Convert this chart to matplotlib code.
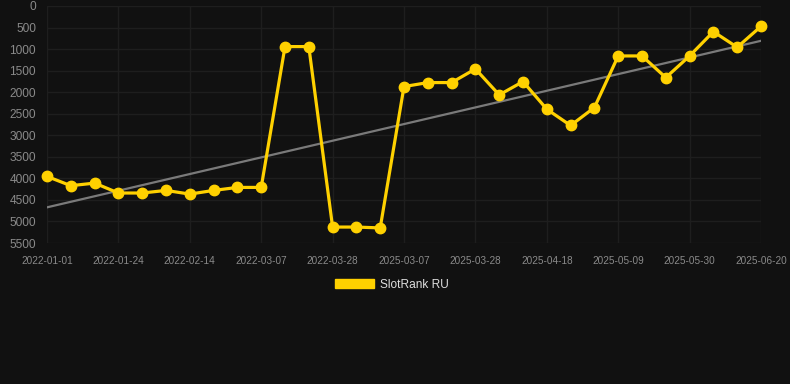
import numpy as np
import matplotlib
matplotlib.use('Agg')
import matplotlib.pyplot as plt
from matplotlib.patches import Patch

## data
rank = [3955, 4170, 4110, 4340, 4340, 4280, 4365, 4280, 4210, 4210,
        942, 942, 5130, 5130, 5150, 1870, 1777, 1777, 1460, 2063,
        1754, 2395, 2773, 2356, 1159, 1159, 1661, 1159, 595, 958, 471]
tick_labels = ['2022-01-01', '2022-01-24', '2022-02-14', '2022-03-07',
               '2022-03-28', '2025-03-07', '2025-03-28', '2025-04-18',
               '2025-05-09', '2025-05-30', '2025-06-20']
series_name = 'SlotRank RU'

## style
bg, grid_c, txt_c = '#111111', '#1e1e1e', '#8a8a8a'
gold, trend_c = '#FFD100', '#7a7a7a'
plt.rcParams['font.family'] = ['Liberation Sans', 'DejaVu Sans']

x = np.arange(len(rank))
slope, icpt = np.polyfit(x, rank, 1)

fig = plt.figure(figsize = (7.9, 3.84), dpi = 100, facecolor = bg)
ax = fig.add_axes([47 / 790, 1 - 243 / 384, 714 / 790, 237 / 384])
ax.set_facecolor(bg)

# trend then series
ax.plot(x, slope * x + icpt, color = trend_c, lw = 1.6, zorder = 2)
ax.plot(x, rank, color = gold, lw = 2.3, marker = 'o', ms = 7.5,
        clip_on = False, zorder = 3)

# axes formatting
ax.set_xlim(0, len(rank) - 1)
ax.set_ylim(5500, 0)
ax.set_yticks(np.arange(0, 5501, 500))
ax.set_xticks(x[::3])
ax.set_xticklabels(tick_labels)
ax.tick_params(axis = 'y', colors = txt_c, labelsize = 8.6, length = 0, pad = 8)
ax.tick_params(axis = 'x', colors = txt_c, labelsize = 7.2, length = 0, pad = 9)
ax.grid(color = grid_c, lw = 1.0)
ax.set_axisbelow(True)
for s in ax.spines.values():
    s.set_visible(False)

# legend under the plot
leg = fig.legend(handles = [Patch(facecolor = gold, edgecolor = gold)],
                 labels = [series_name], loc = 'center',
                 bbox_to_anchor = (392 / 790, 1 - 285 / 384), frameon = False,
                 fontsize = 8.6, handlelength = 3.3, handleheight = 0.8,
                 handletextpad = 0.5, labelcolor = '#dddddd')

fig.savefig('out.png', dpi = 100, facecolor = bg)
